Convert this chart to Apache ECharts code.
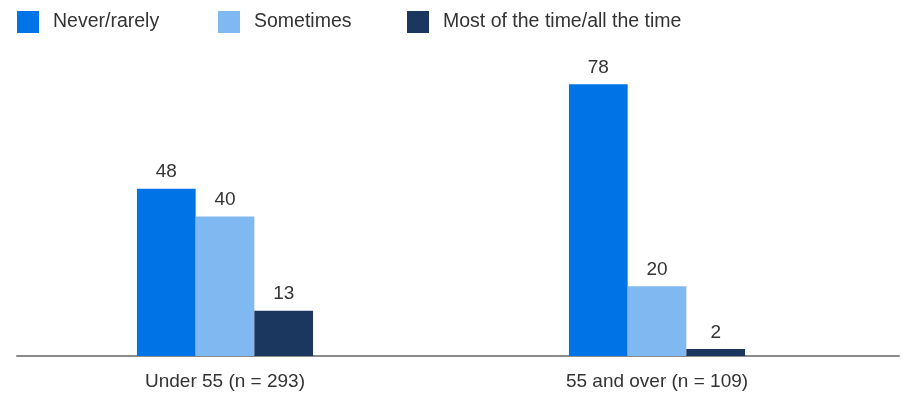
<!DOCTYPE html>
<html>
<head>
<meta charset="utf-8">
<script src="https://cdn.jsdelivr.net/npm/echarts@6/dist/echarts.min.js"></script>
<style>
  html, body { margin: 0; padding: 0; background: #fff; }
  #main { width: 905px; height: 393px; }
</style>
</head>
<body>
<div id="main"></div>
<script>
const categories = ['Under 55 (n = 293)', '55 and over (n = 109)'];
const seriesNames = ['Never/rarely', 'Sometimes', 'Most of the time/all the time'];
const neverRarely = [48, 78];
const sometimes = [40, 20];
const mostOfTime = [13, 2];
const colors = ['#0073E6', '#80B8F2', '#1B365F'];

const font = 'Arial, "Liberation Sans", Helvetica, sans-serif';
const textColor = '#333333';
let myChart = echarts.init(document.getElementById('main'));

// one legend per item so each can sit where it is in the picture
const legendLeft = [17, 218, 407];
const legends = seriesNames.map(function (name, i) {
    return {
        data: [name],
        left: legendLeft[i],
        top: 11,
        padding: 0,
        icon: 'rect',
        itemWidth: 22,
        itemHeight: 22,
        selectedMode: false,
        textStyle: {fontFamily: font, fontSize: 19.5, color: textColor, padding: [3, 0, 0, 9]}
    };
});

function barSeries(name, values, color) {
    return {
        name: name,
        type: 'bar',
        data: values,
        barWidth: 58.7,
        barGap: '0%',
        itemStyle: {color: color},
        label: {
            show: true,
            position: 'top',
            distance: 7,
            fontFamily: font,
            fontSize: 19,
            color: textColor
        }
    };
}

let option = {
    animation: false,
    legend: legends,
    grid: [
        {left: 9, right: 32, top: 7.5, bottom: 37},
        {left: 17, right: 6, top: 7.5, bottom: 37}
    ],
    xAxis: [
        {
            type: 'category',
            data: categories,
            gridIndex: 0,
            axisLine: {show: false},
            axisTick: {show: false},
            axisLabel: {fontFamily: font, fontSize: 19, color: textColor, margin: 16}
        },
        {
            type: 'value',
            gridIndex: 1,
            min: 0,
            max: 1,
            axisLine: {show: true, lineStyle: {color: '#8c8c8c', width: 2}},
            axisTick: {show: false},
            axisLabel: {show: false},
            splitLine: {show: false}
        }
    ],
    yAxis: [
        {type: 'value', gridIndex: 0, min: 0, max: 100, show: false},
        {type: 'value', gridIndex: 1, min: 0, max: 1, show: false}
    ],
    series: [
        barSeries(seriesNames[0], neverRarely, colors[0]),
        barSeries(seriesNames[1], sometimes, colors[1]),
        barSeries(seriesNames[2], mostOfTime, colors[2])
    ]
};
myChart.setOption(option);
</script>
</body>
</html>
